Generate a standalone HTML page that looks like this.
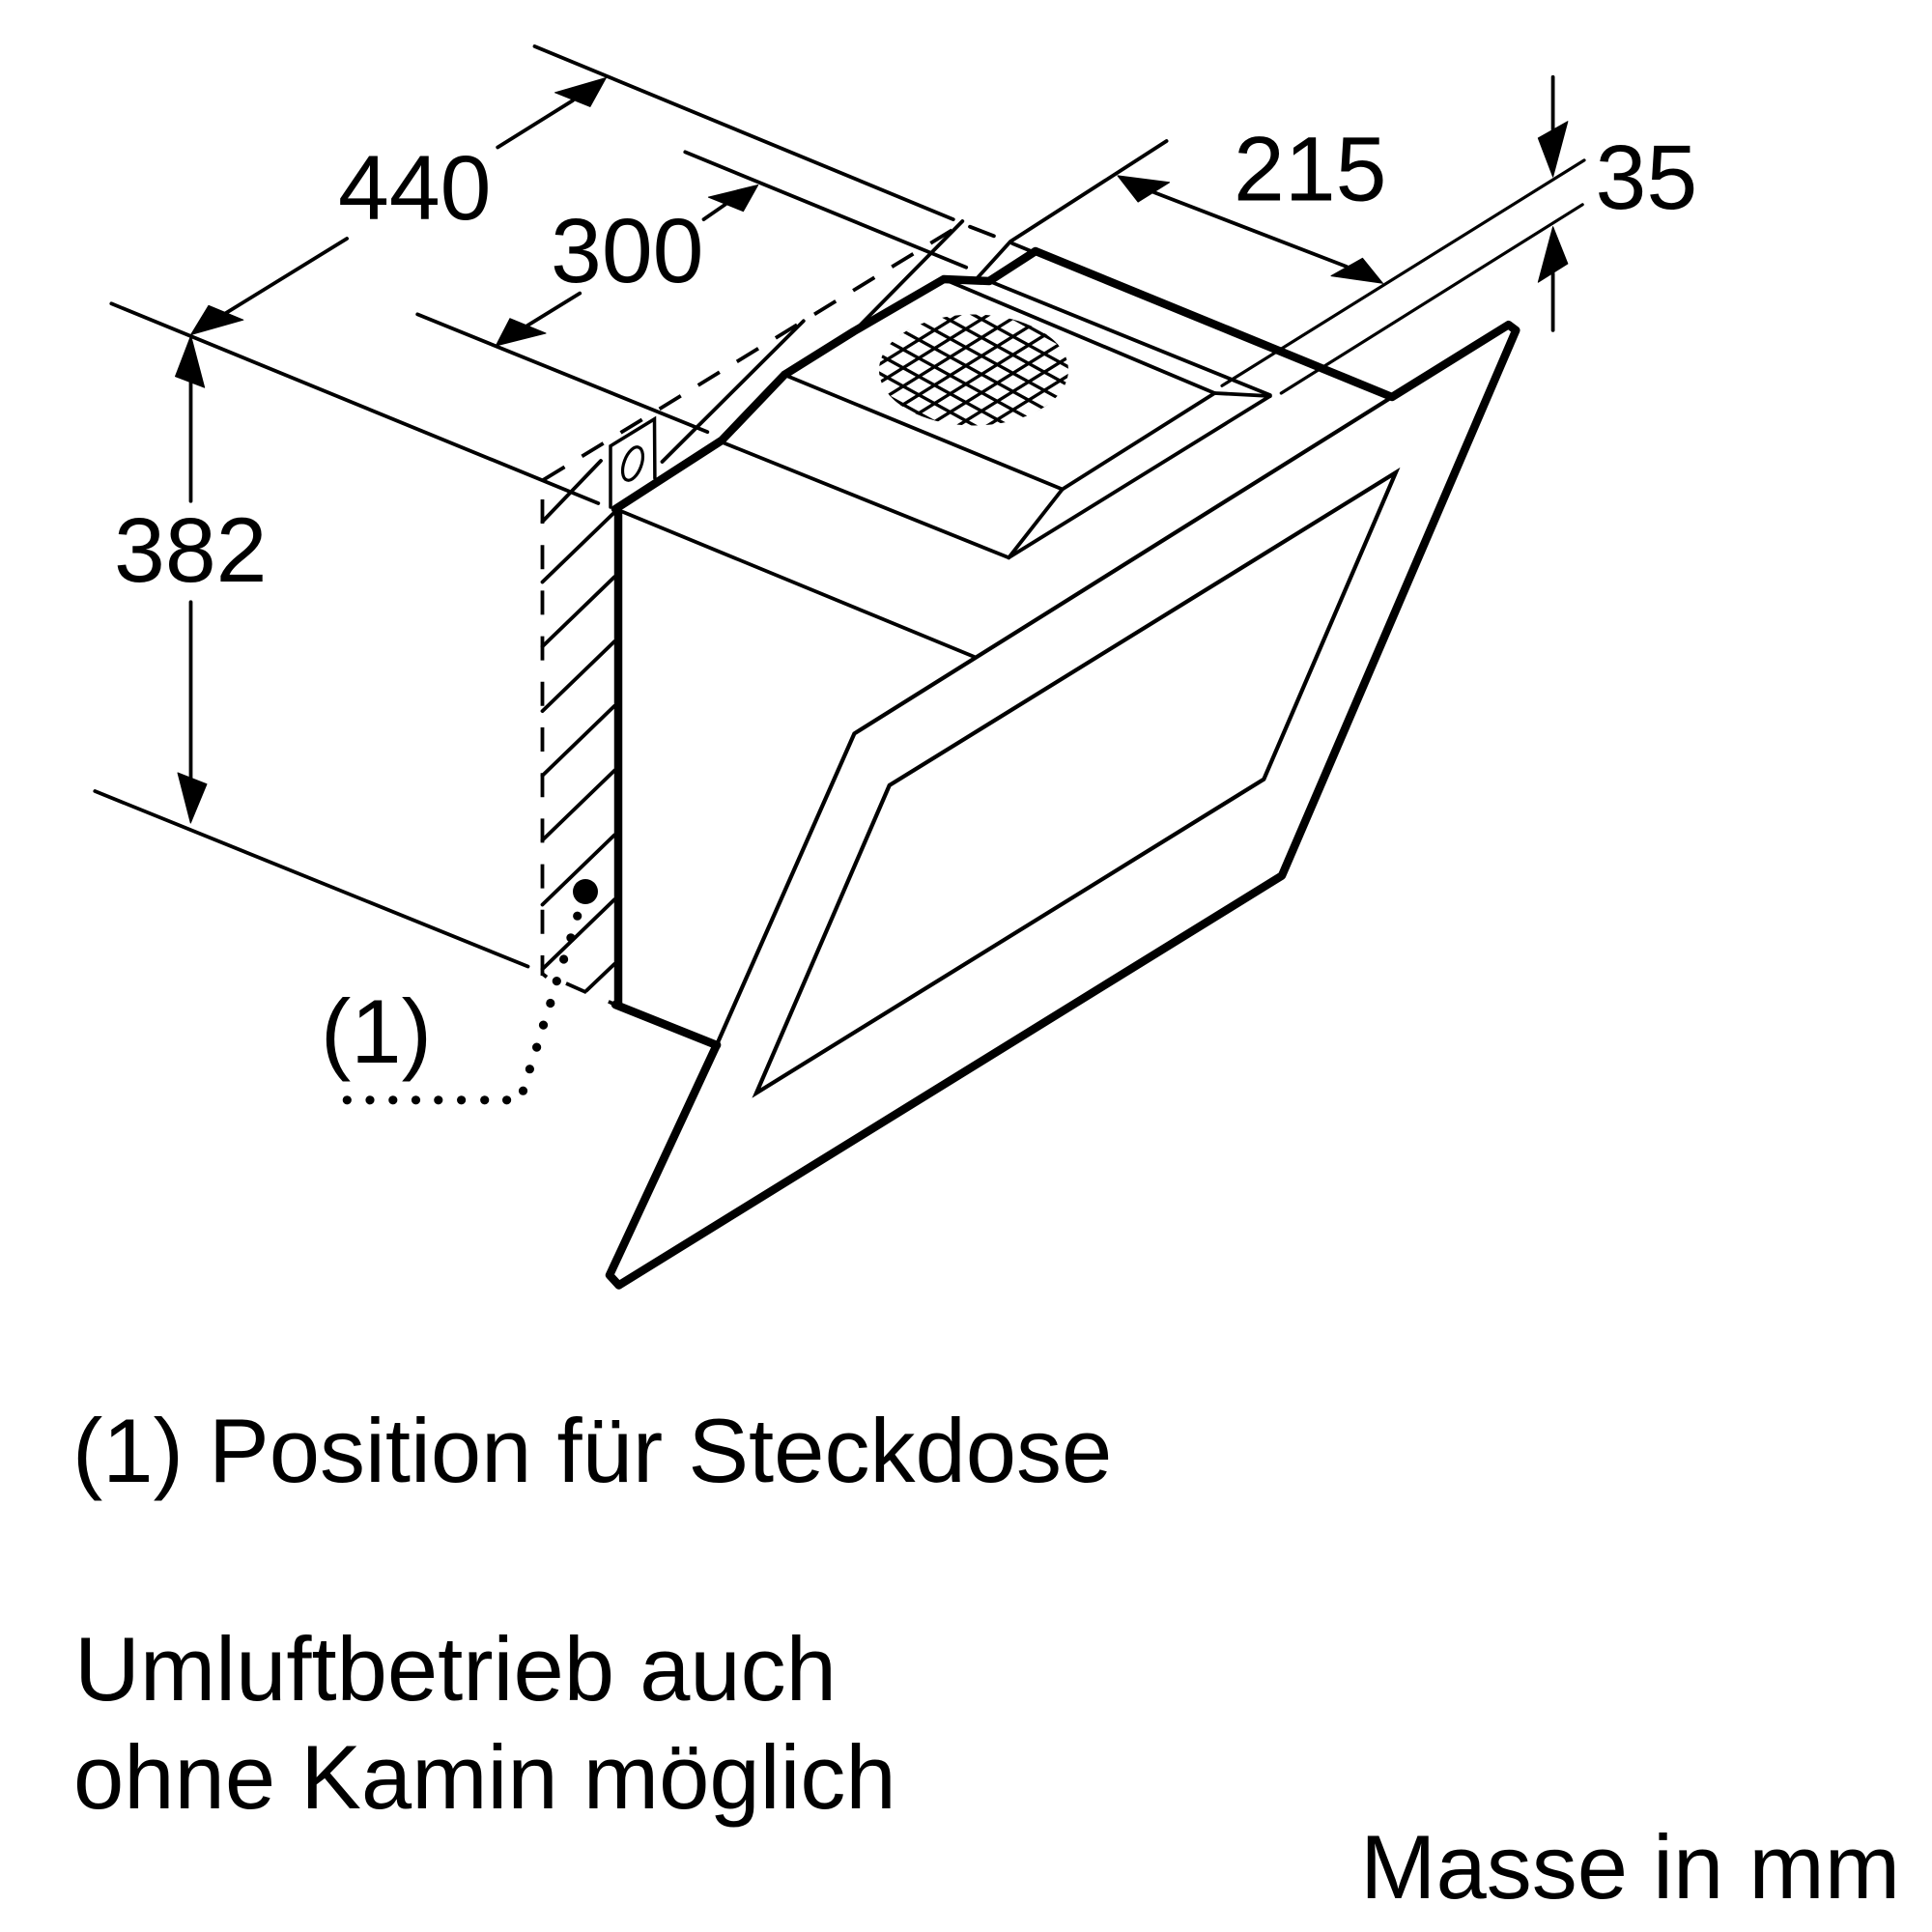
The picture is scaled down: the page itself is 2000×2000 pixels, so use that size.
<!DOCTYPE html>
<html>
<head>
<meta charset="utf-8">
<style>
html,body{margin:0;padding:0;background:#fff;}
svg{display:block;}
text{font-family:"Liberation Sans",Arial,sans-serif;fill:#000;}
</style>
</head>
<body>
<svg width="2000" height="2000" viewBox="0 0 2000 2000" xmlns="http://www.w3.org/2000/svg">
<rect width="2000" height="2000" fill="#fff"/>
<defs>
<clipPath id="mc"><ellipse cx="1008" cy="383" rx="98" ry="57.5"/></clipPath>
</defs>

<!-- dimension / extension lines -->
<g stroke="#000" stroke-width="3.8" fill="none" stroke-linecap="round">
  <line x1="553.5" y1="48" x2="986.8" y2="227.1"/>
  <line x1="1004" y1="234.7" x2="1028.9" y2="244.3"/>
  <line x1="1048" y1="252" x2="1071" y2="261.5"/>
  <line x1="115.3" y1="314.3" x2="619.3" y2="521"/>
  <line x1="515.2" y1="152.5" x2="593" y2="104"/>
  <line x1="359.1" y1="247" x2="234" y2="324"/>
  <line x1="709.3" y1="157.4" x2="1000.2" y2="276.8"/>
  <line x1="432.2" y1="325.4" x2="732.3" y2="447.1"/>
  <line x1="728.5" y1="227.1" x2="751" y2="211.5"/>
  <line x1="600.2" y1="303.6" x2="546" y2="337"/>
  <line x1="197.5" y1="395" x2="197.5" y2="518.7"/>
  <line x1="197.5" y1="623.3" x2="197.5" y2="806"/>
  <line x1="98.3" y1="819" x2="546.5" y2="1000.5"/>
  <polyline points="1207.6,146 1046,250 1009.7,290"/>
  <line x1="1194.3" y1="199" x2="1394" y2="276"/>
  <line x1="1265" y1="399.3" x2="1640" y2="165.9" stroke-width="3.2"/>
  <line x1="1326.3" y1="407" x2="1638.2" y2="211.8" stroke-width="3.2"/>
  <line x1="1607.6" y1="79.8" x2="1607.6" y2="134"/>
  <line x1="1607.6" y1="283" x2="1607.6" y2="341.9"/>
</g>

<!-- arrowheads -->
<g fill="#000" stroke="#000" stroke-width="1" stroke-linejoin="round">
  <polygon points="627.4,80.5 574.5,95.8 610.9,110.4"/>
  <polygon points="197.6,346.5 216,316.3 251.9,331.2"/>
  <polygon points="197.6,347.6 181.5,389.7 211.7,401.2"/>
  <polygon points="197.3,852 184,800 214,811.7"/>
  <polygon points="513.3,358 527.9,329.7 565,345"/>
  <polygon points="784.7,191.5 733.4,204.1 769.4,218.7"/>
  <polygon points="1157,181.9 1178.1,209.1 1210.6,188.8"/>
  <polygon points="1431.5,293.3 1378,285.6 1410.5,267.3"/>
  <polygon points="1607.6,183.1 1592.3,142.9 1622.9,125.7"/>
  <polygon points="1607.6,234.7 1592.3,292.2 1622.9,273"/>
</g>

<!-- dashed wall outline -->
<g stroke="#000" stroke-width="3.8" fill="none" stroke-linecap="butt">
  <line x1="562.3" y1="496.9" x2="994.4" y2="232.8" stroke-dasharray="26 21"/>
  <line x1="561.5" y1="517" x2="561.5" y2="1010" stroke-dasharray="25 22.2"/>
  <line x1="561.5" y1="1008" x2="566" y2="1011.5"/>
  <line x1="586" y1="1018" x2="607" y2="1027.3"/>
  <line x1="629.9" y1="1036.8" x2="637" y2="1040"/>
</g>

<!-- hatch + thin body lines -->
<g stroke="#000" stroke-width="3.8" fill="none" stroke-linecap="round">
  <line x1="561.5" y1="540" x2="622" y2="477"/>
  <line x1="561.5" y1="602.5" x2="636" y2="530.5"/>
  <line x1="561.5" y1="669.3" x2="636" y2="597.3"/>
  <line x1="561.5" y1="736.1" x2="636" y2="664.1"/>
  <line x1="561.5" y1="802.9" x2="636" y2="730.9"/>
  <line x1="561.5" y1="869.7" x2="636" y2="797.7"/>
  <line x1="561.5" y1="936.5" x2="636" y2="864.5"/>
  <line x1="561.5" y1="1003.3" x2="636" y2="931.3"/>
  <line x1="607" y1="1025.6" x2="636" y2="998"/>

  <line x1="996.3" y1="229" x2="884" y2="343"/>
  <line x1="831.8" y1="332.3" x2="685.5" y2="478"/>

  <polyline points="632,525 632,461.7 677.5,433.7 677.9,495" stroke-width="3.5"/>
  <ellipse cx="655" cy="480" rx="9" ry="18" transform="rotate(20 655 480)" stroke-width="3.2"/>

  <line x1="645" y1="530" x2="1008.7" y2="680"/>
  <line x1="749.5" y1="458.6" x2="1044.2" y2="577.3"/>
  <line x1="1044.2" y1="577.3" x2="1314.8" y2="410"/>
  <line x1="1044.2" y1="577.3" x2="1099.7" y2="506.5"/>
  <line x1="1099.7" y1="506.5" x2="1257.4" y2="407"/>
  <line x1="812" y1="388" x2="1099.7" y2="506.5"/>
  <line x1="977" y1="289" x2="1257.4" y2="407"/>
  <line x1="1024" y1="291" x2="1314.8" y2="409"/>
  <line x1="1257.4" y1="407" x2="1314.8" y2="410"/>

  <polyline points="742,1081.5 884.4,759.4 1441,411" stroke-width="4.2"/>
  <polygon points="1444.9,489.2 1308.3,806.7 783,1131.5 920.7,813" stroke-width="4.2" stroke-linejoin="miter"/>
</g>

<!-- grille mesh -->
<g clip-path="url(#mc)" stroke="#000" stroke-width="3.3">
  <line x1="905" y1="193.35" x2="1110" y2="306.1"/>
  <line x1="905" y1="212.35" x2="1110" y2="325.1"/>
  <line x1="905" y1="231.35" x2="1110" y2="344.1"/>
  <line x1="905" y1="250.35" x2="1110" y2="363.1"/>
  <line x1="905" y1="269.35" x2="1110" y2="382.1"/>
  <line x1="905" y1="288.35" x2="1110" y2="401.1"/>
  <line x1="905" y1="307.35" x2="1110" y2="420.1"/>
  <line x1="905" y1="326.35" x2="1110" y2="439.1"/>
  <line x1="905" y1="345.35" x2="1110" y2="458.1"/>
  <line x1="905" y1="364.35" x2="1110" y2="477.1"/>
  <line x1="905" y1="383.35" x2="1110" y2="496.1"/>
  <line x1="905" y1="402.35" x2="1110" y2="515.1"/>
  <line x1="905" y1="421.35" x2="1110" y2="534.1"/>
  <line x1="905" y1="440.35" x2="1110" y2="553.1"/>
  <line x1="905" y1="459.35" x2="1110" y2="572.1"/>

  <line x1="905" y1="323.36" x2="1110" y2="196.26"/>
  <line x1="905" y1="342.36" x2="1110" y2="215.26"/>
  <line x1="905" y1="361.36" x2="1110" y2="234.26"/>
  <line x1="905" y1="380.36" x2="1110" y2="253.26"/>
  <line x1="905" y1="399.36" x2="1110" y2="272.26"/>
  <line x1="905" y1="418.36" x2="1110" y2="291.26"/>
  <line x1="905" y1="437.36" x2="1110" y2="310.26"/>
  <line x1="905" y1="456.36" x2="1110" y2="329.26"/>
  <line x1="905" y1="475.36" x2="1110" y2="348.26"/>
  <line x1="905" y1="494.36" x2="1110" y2="367.26"/>
  <line x1="905" y1="513.36" x2="1110" y2="386.26"/>
  <line x1="905" y1="532.36" x2="1110" y2="405.26"/>
  <line x1="905" y1="551.36" x2="1110" y2="424.26"/>
  <line x1="905" y1="570.36" x2="1110" y2="443.26"/>
  <line x1="905" y1="589.36" x2="1110" y2="462.26"/>
</g>

<!-- thick outlines -->
<g stroke="#000" stroke-width="8.5" fill="none" stroke-linecap="round" stroke-linejoin="round">
  <polyline points="637,527 747,456 812,388 884,343 977,289 1024,291 1072,260 1441,411 1561.6,336.2 1569.3,341.9 1327,906.5 640.6,1330.5 631,1320 742,1081.5"/>
  <line x1="640" y1="527" x2="640" y2="1039"/>
  <line x1="637" y1="1040" x2="742" y2="1082"/>
</g>

<!-- socket + dotted leader -->
<g fill="#000">
  <circle cx="606" cy="923" r="13"/>
  <circle cx="597.7" cy="948.2" r="4.6"/>
  <circle cx="590.9" cy="970.8" r="4.6"/>
  <circle cx="583.6" cy="993" r="4.6"/>
  <circle cx="576.3" cy="1015.6" r="4.6"/>
  <circle cx="569.8" cy="1038.5" r="4.6"/>
  <circle cx="562.5" cy="1061.1" r="4.6"/>
  <circle cx="555.6" cy="1084.1" r="4.6"/>
  <circle cx="548.4" cy="1106.7" r="4.6"/>
  <circle cx="541.5" cy="1129.2" r="4.6"/>
  <circle cx="524.6" cy="1138.8" r="4.6"/>
  <circle cx="501.7" cy="1138.8" r="4.6"/>
  <circle cx="477.6" cy="1138.8" r="4.6"/>
  <circle cx="453.8" cy="1138.8" r="4.6"/>
  <circle cx="430.5" cy="1138.8" r="4.6"/>
  <circle cx="406.8" cy="1138.8" r="4.6"/>
  <circle cx="383" cy="1138.8" r="4.6"/>
  <circle cx="359.3" cy="1138.8" r="4.6"/>
</g>

<!-- dimension labels -->
<g font-size="95">
  <text x="350" y="227">440</text>
  <text x="570" y="292">300</text>
  <text x="118" y="602">382</text>
  <text x="1277" y="207.5">215</text>
  <text x="1651.5" y="216">35</text>
</g>
<text x="332" y="1100" font-size="94">(1)</text>

<!-- notes -->
<g font-size="94">
  <text x="75" y="1534">(1) Position für Steckdose</text>
  <text x="77" y="1760">Umluftbetrieb auch</text>
  <text x="76" y="1872">ohne Kamin möglich</text>
  <text x="1967" y="1965" text-anchor="end">Masse in mm</text>
</g>
</svg>
</body>
</html>
